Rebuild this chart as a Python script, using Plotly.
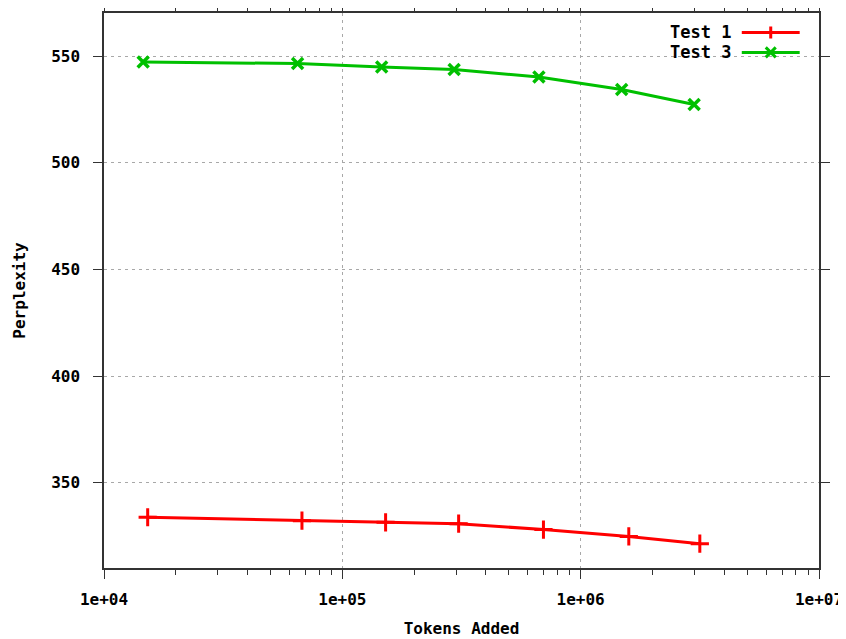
import plotly.graph_objects as go

# Data
tokens_test1 = [15250, 67700, 151900, 307600, 698000, 1592000, 3162000]
perplexity_test1 = [333.8, 332.2, 331.4, 330.8, 328.0, 324.8, 321.4]
tokens_test3 = [14600, 64900, 146200, 294500, 668000, 1486000, 2993000]
perplexity_test3 = [547.3, 546.6, 545.0, 543.8, 540.3, 534.4, 527.4]

series_names = ["Test 1", "Test 3"]
x_tick_vals = [1e4, 1e5, 1e6, 1e7]
x_tick_text = ["1e+04", "1e+05", "1e+06", "1e+07"]
y_tick_vals = [350, 400, 450, 500, 550]
minor_vals = [m * 10 ** e for e in (4, 5, 6) for m in range(2, 10)]

RED = "#ff0000"
GREEN = "#00c000"
FONT = "DejaVu Sans Mono"

fig = go.Figure()
fig.add_trace(go.Scatter(
    x=tokens_test1, y=perplexity_test1, name=series_names[0], mode="lines+markers",
    line=dict(color=RED, width=3),
    marker=dict(symbol="cross-thin", size=13, line=dict(color=RED, width=3)),
))
fig.add_trace(go.Scatter(
    x=tokens_test3, y=perplexity_test3, name=series_names[1], mode="lines+markers",
    line=dict(color=GREEN, width=3),
    marker=dict(symbol="x-thin", size=11, line=dict(color=GREEN, width=3.5)),
))

# Custom gnuplot-style legend (text left of sample) in paper coordinates
legend_rows = [(series_names[0], RED, 0.965, "M-6,0 L6,0 M0,-6 L0,6"),
               (series_names[1], GREEN, 0.929, "M-5,-5 L5,5 M-5,5 L5,-5")]
for name, col, yy, sym in legend_rows:
    fig.add_annotation(x=0.880, y=yy, xref="paper", yref="paper", text="<b>%s</b>" % name,
                       showarrow=False, xanchor="right", yanchor="middle",
                       font=dict(family=FONT, size=17, color="#000000"))
    fig.add_shape(type="line", xref="paper", yref="paper", x0=0.892, x1=0.973, y0=yy, y1=yy,
                  line=dict(color=col, width=3))
    fig.add_shape(type="path", xref="paper", yref="paper", xsizemode="pixel", ysizemode="pixel",
                  xanchor=0.9325, yanchor=yy, path=sym, line=dict(color=col, width=3))

axis_common = dict(
    showline=True, linecolor="#333333", linewidth=1.5, mirror="allticks",
    ticks="outside", ticklen=9, tickcolor="#333333", tickwidth=1,
    showgrid=True, gridcolor="#a8a8a8", gridwidth=1, griddash="3px,4px",
    zeroline=False, automargin=False,
    tickfont=dict(family=FONT, size=16, color="#000000", weight="bold"),
)

fig.update_xaxes(
    type="log", range=[4, 7], tickvals=x_tick_vals, ticktext=x_tick_text,
    ticklabelstandoff=7,
    minor=dict(tickvals=minor_vals, ticks="outside", ticklen=5, tickcolor="#333333", showgrid=False),
    title=dict(text="<b>Tokens Added</b>", font=dict(family=FONT, size=16, color="#000000"), standoff=15),
    **axis_common,
)
fig.update_yaxes(
    range=[310, 570.3], tickvals=y_tick_vals, ticklabelstandoff=10,
    title=dict(text="<b>Perplexity</b>", font=dict(family=FONT, size=16, color="#000000"), standoff=22),
    **axis_common,
)

fig.update_layout(
    width=838, height=631,
    margin=dict(l=96, r=27, t=5, b=71, autoexpand=False),
    paper_bgcolor="white", plot_bgcolor="white",
    showlegend=False,
)

fig.write_html("out.html")
